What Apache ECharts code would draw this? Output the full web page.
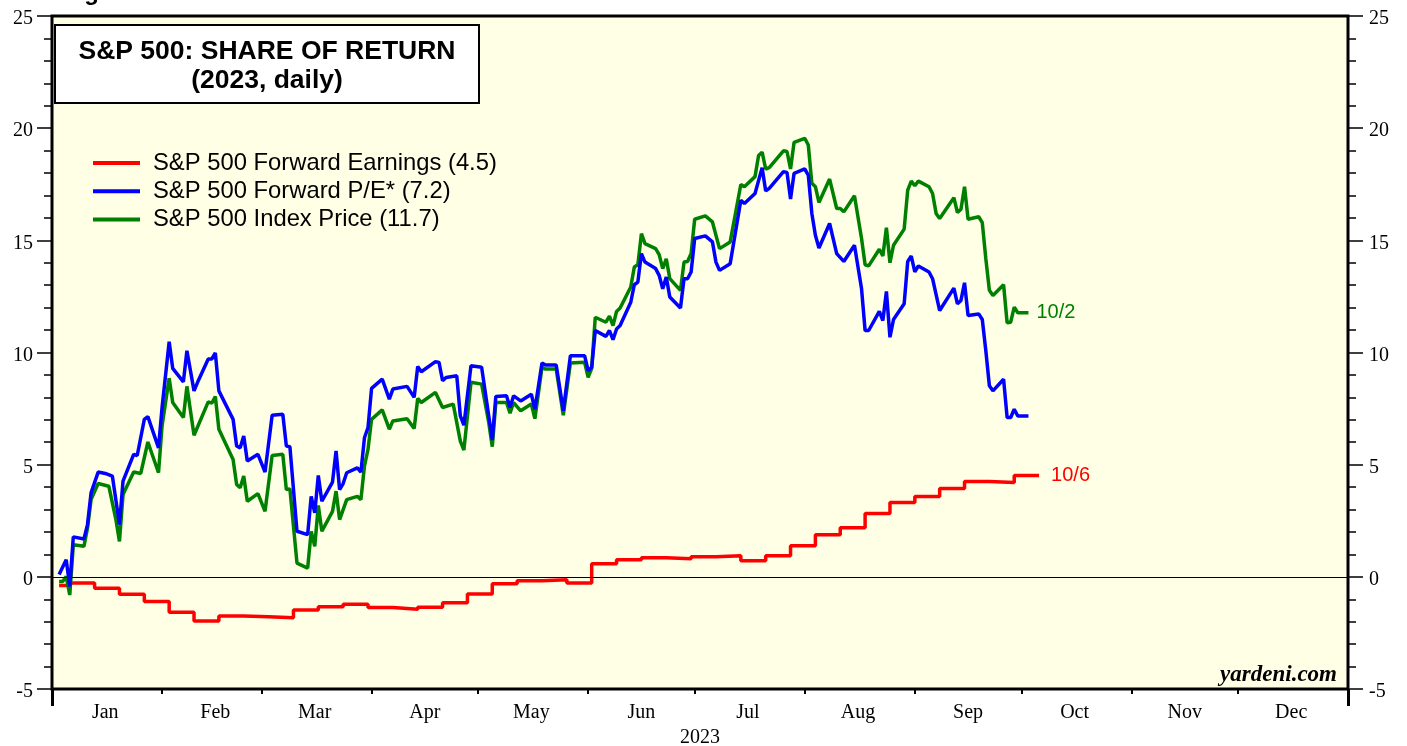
<!DOCTYPE html>
<html><head><meta charset="utf-8">
<script src="https://cdn.jsdelivr.net/npm/echarts@6/dist/echarts.min.js"></script>
<style>html,body{margin:0;padding:0;background:#fff}#c{width:1407px;height:746px}</style>
</head><body><div id="c"></div>
<script>
const monthNames = ['Jan','Feb','Mar','Apr','May','Jun','Jul','Aug','Sep','Oct','Nov','Dec'];
const yearLabel = '2023';
const yMin = -5, yMax = 25, yStep = 5;

const seriesNames = ['S&P 500 Forward Earnings (4.5)', 'S&P 500 Forward P/E* (7.2)', 'S&P 500 Index Price (11.7)'];
const endLabels = ['10/6', '10/2'];

const earnings = [
['2023-01-03',-0.39],['2023-01-06',-0.28],['2023-01-13',-0.51],['2023-01-20',-0.78],['2023-01-27',-1.10],
['2023-02-03',-1.58],['2023-02-10',-1.97],['2023-02-17',-1.75],['2023-02-24',-1.78],['2023-03-03',-1.82],
['2023-03-10',-1.48],['2023-03-17',-1.33],['2023-03-24',-1.22],['2023-03-31',-1.37],['2023-04-07',-1.45],
['2023-04-14',-1.36],['2023-04-21',-1.16],['2023-04-28',-0.76],['2023-05-05',-0.31],['2023-05-12',-0.18],
['2023-05-19',-0.13],['2023-05-26',-0.27],['2023-06-02',0.58],['2023-06-09',0.76],['2023-06-16',0.85],
['2023-06-23',0.81],['2023-06-30',0.90],['2023-07-07',0.94],['2023-07-14',0.72],['2023-07-21',0.94],
['2023-07-28',1.39],['2023-08-04',1.88],['2023-08-11',2.19],['2023-08-18',2.82],['2023-08-25',3.31],
['2023-09-01',3.58],['2023-09-08',3.94],['2023-09-15',4.25],['2023-09-22',4.21],['2023-09-29',4.52],
['2023-10-06',4.52]
];

const forwardPE = [
['2023-01-03',0.10],['2023-01-05',0.76],['2023-01-06',-0.43],['2023-01-07',1.78],['2023-01-10',1.69],
['2023-01-11',2.33],['2023-01-12',3.74],['2023-01-14',4.67],['2023-01-16',4.61],['2023-01-18',4.49],
['2023-01-20',2.33],['2023-01-21',4.27],['2023-01-24',5.46],['2023-01-25',5.41],['2023-01-27',7.02],
['2023-01-28',7.14],['2023-01-31',5.75],['2023-02-01',7.55],['2023-02-03',10.48],['2023-02-04',9.29],
['2023-02-07',8.69],['2023-02-08',10.08],['2023-02-10',8.29],['2023-02-11',8.67],['2023-02-14',9.71],
['2023-02-15',9.71],['2023-02-16',9.98],['2023-02-17',8.29],['2023-02-21',7.02],['2023-02-22',5.83],
['2023-02-23',5.75],['2023-02-24',6.28],['2023-02-25',5.16],['2023-02-28',5.46],['2023-03-02',4.67],
['2023-03-04',7.20],['2023-03-07',7.25],['2023-03-08',5.83],['2023-03-09',5.80],['2023-03-11',2.03],
['2023-03-14',1.88],['2023-03-15',3.59],['2023-03-16',2.85],['2023-03-17',4.52],['2023-03-18',3.37],
['2023-03-21',4.22],['2023-03-22',5.61],['2023-03-23',3.89],['2023-03-24',4.16],['2023-03-25',4.64],
['2023-03-28',4.86],['2023-03-29',4.67],['2023-03-30',6.20],['2023-03-31',6.65],['2023-04-01',8.40],
['2023-04-04',8.81],['2023-04-06',7.92],['2023-04-07',8.37],['2023-04-11',8.49],['2023-04-13',8.00],
['2023-04-14',9.38],['2023-04-15',9.14],['2023-04-19',9.59],['2023-04-20',9.56],['2023-04-21',8.74],
['2023-04-22',8.89],['2023-04-25',8.96],['2023-04-26',7.17],['2023-04-27',6.76],['2023-04-29',9.41],
['2023-05-02',9.34],['2023-05-04',7.17],['2023-05-05',6.10],['2023-05-06',8.04],['2023-05-09',8.07],
['2023-05-10',7.55],['2023-05-11',8.07],['2023-05-13',7.84],['2023-05-16',8.14],['2023-05-17',7.47],
['2023-05-19',9.53],['2023-05-20',9.44],['2023-05-23',9.44],['2023-05-25',7.40],['2023-05-27',9.86],
['2023-05-31',9.86],['2023-06-01',9.19],['2023-06-02',9.34],['2023-06-03',10.98],['2023-06-06',10.72],
['2023-06-07',10.98],['2023-06-08',10.57],['2023-06-09',11.05],['2023-06-10',11.20],['2023-06-13',12.24],
['2023-06-14',13.02],['2023-06-15',13.14],['2023-06-16',14.41],['2023-06-17',14.03],['2023-06-20',13.74],
['2023-06-21',13.44],['2023-06-22',12.84],['2023-06-23',13.36],['2023-06-24',12.47],['2023-06-27',11.98],
['2023-06-28',13.29],['2023-06-29',13.29],['2023-06-30',13.59],['2023-07-01',15.08],['2023-07-04',15.20],
['2023-07-06',14.93],['2023-07-07',14.03],['2023-07-08',13.66],['2023-07-11',13.96],['2023-07-14',16.79],
['2023-07-15',16.64],['2023-07-18',17.09],['2023-07-20',18.24],['2023-07-21',17.20],['2023-07-22',17.32],
['2023-07-26',18.06],['2023-07-27',18.03],['2023-07-28',16.84],['2023-07-29',17.99],['2023-08-01',18.18],
['2023-08-02',17.91],['2023-08-03',16.20],['2023-08-04',15.23],['2023-08-05',14.66],['2023-08-08',15.75],
['2023-08-10',14.41],['2023-08-12',14.06],['2023-08-15',14.78],['2023-08-17',12.84],['2023-08-18',10.98],
['2023-08-19',10.98],['2023-08-22',11.83],['2023-08-23',11.42],['2023-08-24',12.72],['2023-08-25',10.68],
['2023-08-26',11.47],['2023-08-29',12.17],['2023-08-30',14.06],['2023-08-31',14.30],['2023-09-01',13.59],
['2023-09-02',13.86],['2023-09-05',13.59],['2023-09-06',13.29],['2023-09-08',11.87],['2023-09-12',12.87],
['2023-09-13',12.17],['2023-09-14',12.32],['2023-09-15',13.11],['2023-09-16',11.65],['2023-09-19',11.72],
['2023-09-20',11.47],['2023-09-21',10.08],['2023-09-22',8.52],['2023-09-23',8.29],['2023-09-26',8.81],
['2023-09-27',7.10],['2023-09-28',7.10],['2023-09-29',7.47],['2023-09-30',7.17],['2023-10-03',7.17]
];

const indexPrice = [
['2023-01-03',-0.21],['2023-01-04',-0.21],['2023-01-05',0.01],['2023-01-06',-0.81],['2023-01-07',1.43],
['2023-01-10',1.36],['2023-01-11',2.18],['2023-01-12',3.44],['2023-01-14',4.16],['2023-01-17',4.04],
['2023-01-19',2.55],['2023-01-20',1.58],['2023-01-21',3.67],['2023-01-24',4.67],['2023-01-26',4.61],
['2023-01-28',6.01],['2023-01-31',4.64],['2023-02-01',6.73],['2023-02-03',8.85],['2023-02-04',7.77],
['2023-02-07',7.10],['2023-02-08',8.49],['2023-02-10',6.31],['2023-02-14',7.80],['2023-02-15',7.74],
['2023-02-16',8.04],['2023-02-17',6.58],['2023-02-21',5.23],['2023-02-22',4.12],['2023-02-23',3.97],
['2023-02-24',4.49],['2023-02-25',3.37],['2023-02-28',3.71],['2023-03-02',2.92],['2023-03-04',5.41],
['2023-03-07',5.46],['2023-03-08',3.89],['2023-03-09',3.92],['2023-03-11',0.61],['2023-03-14',0.39],
['2023-03-15',2.03],['2023-03-16',1.36],['2023-03-17',3.18],['2023-03-18',2.03],['2023-03-21',2.92],
['2023-03-22',3.82],['2023-03-23',2.55],['2023-03-25',3.44],['2023-03-28',3.59],['2023-03-29',3.44],
['2023-03-30',4.94],['2023-03-31',5.68],['2023-04-01',7.02],['2023-04-04',7.44],['2023-04-06',6.58],
['2023-04-07',6.95],['2023-04-11',7.05],['2023-04-13',6.61],['2023-04-14',7.95],['2023-04-15',7.77],
['2023-04-19',8.22],['2023-04-21',7.55],['2023-04-24',7.70],['2023-04-26',6.05],['2023-04-27',5.65],
['2023-04-29',8.67],['2023-05-02',8.59],['2023-05-04',6.88],['2023-05-05',5.80],['2023-05-06',7.77],
['2023-05-09',7.77],['2023-05-10',7.29],['2023-05-11',7.77],['2023-05-13',7.40],['2023-05-16',7.70],
['2023-05-17',7.05],['2023-05-19',9.34],['2023-05-20',9.26],['2023-05-23',9.26],['2023-05-25',7.20],
['2023-05-27',9.53],['2023-05-31',9.56],['2023-06-01',8.89],['2023-06-02',9.29],['2023-06-03',11.57],
['2023-06-06',11.35],['2023-06-07',11.62],['2023-06-08',11.20],['2023-06-09',11.83],['2023-06-10',11.98],
['2023-06-13',12.92],['2023-06-14',13.81],['2023-06-15',13.91],['2023-06-16',15.30],['2023-06-17',14.85],
['2023-06-20',14.63],['2023-06-21',14.36],['2023-06-22',13.74],['2023-06-23',14.18],['2023-06-24',13.29],
['2023-06-27',12.77],['2023-06-28',14.03],['2023-06-29',14.06],['2023-06-30',14.41],['2023-07-01',15.94],
['2023-07-04',16.09],['2023-07-06',15.82],['2023-07-08',14.63],['2023-07-11',14.93],['2023-07-14',17.49],
['2023-07-15',17.39],['2023-07-18',17.84],['2023-07-19',18.78],['2023-07-20',18.93],['2023-07-21',18.18],
['2023-07-22',18.24],['2023-07-26',18.99],['2023-07-27',18.96],['2023-07-28',18.18],['2023-07-29',19.37],
['2023-08-01',19.55],['2023-08-02',19.25],['2023-08-03',17.54],['2023-08-04',17.39],['2023-08-05',16.69],
['2023-08-08',17.73],['2023-08-10',16.42],['2023-08-11',16.42],['2023-08-12',16.27],['2023-08-15',16.99],
['2023-08-17',15.08],['2023-08-18',13.91],['2023-08-19',13.86],['2023-08-22',14.60],['2023-08-23',14.30],
['2023-08-24',15.56],['2023-08-25',14.00],['2023-08-26',14.78],['2023-08-29',15.50],['2023-08-30',17.24],
['2023-08-31',17.64],['2023-09-01',17.43],['2023-09-02',17.64],['2023-09-05',17.39],['2023-09-06',17.09],
['2023-09-07',16.20],['2023-09-08',15.97],['2023-09-12',16.90],['2023-09-13',16.24],['2023-09-14',16.39],
['2023-09-15',17.39],['2023-09-16',15.94],['2023-09-19',16.05],['2023-09-20',15.79],['2023-09-21',14.18],
['2023-09-22',12.77],['2023-09-23',12.54],['2023-09-26',13.02],['2023-09-27',11.32],['2023-09-28',11.35],
['2023-09-29',12.02],['2023-09-30',11.77],['2023-10-03',11.77]
];

function toTs(s) { const p = s.split('-').map(Number); return new Date(p[0], p[1] - 1, p[2]).getTime(); }
function prep(arr) { return arr.map(d => [toTs(d[0]), d[1]]); }

const tStart = new Date(2023, 0, 1).getTime();
const tEnd = new Date(2024, 0, 1).getTime();
const monthTicks = [];
const monthLabelPos = [];
for (let m = 0; m < 12; m++) {
  if (m > 0) monthTicks.push(new Date(2023, m, 1).getTime());
  monthLabelPos.push(new Date(2023, m, 16).getTime());
}

const serif = '"Liberation Serif", "Times New Roman", serif';
const sans = '"Liberation Sans", Arial, sans-serif';

const chart = echarts.init(document.getElementById('c'));
const yAxisBase = {
  type: 'value', min: yMin, max: yMax, interval: yStep,
  axisLine: { show: false, onZero: false },
  axisTick: { show: true, length: 15, lineStyle: { color: '#000', width: 1.5 } },
  minorTick: { show: true, splitNumber: 5, length: 8, lineStyle: { color: '#000', width: 1.5 } },
  splitLine: { show: false },
  axisLabel: { color: '#000', fontFamily: serif, fontSize: 20, margin: 19,
               formatter: v => '{a|' + v + '}',
               rich: { a: { color: '#000', fontFamily: serif, fontSize: 20, padding: [6, 0, 0, 0] } } }
};
chart.setOption({
  animation: false,
  backgroundColor: '#ffffff',
  grid: { left: 52, top: 16, width: 1296, height: 673, show: true, outerBoundsMode: 'none',
          backgroundColor: '#ffffe5', borderColor: '#000', borderWidth: 3, containLabel: false },
  xAxis: [
    { type: 'value', min: tStart, max: tEnd, position: 'bottom',
      axisLine: { show: false, onZero: false },
      axisTick: { show: true, customValues: monthTicks, length: 5, lineStyle: { color: '#000', width: 2 } },
      axisLabel: { show: true, customValues: monthLabelPos, color: '#000', fontFamily: serif, fontSize: 20, margin: 14,
                   formatter: v => monthNames[new Date(v).getMonth()] },
      splitLine: { show: false },
      name: yearLabel, nameLocation: 'middle', nameGap: 37,
      nameTextStyle: { color: '#000', fontFamily: serif, fontSize: 20 }
    },
    { type: 'value', min: tStart, max: tEnd, position: 'bottom',
      axisLine: { show: false, onZero: false },
      axisTick: { show: true, customValues: [tStart, tEnd], length: 17, lineStyle: { color: '#000', width: 3 } },
      axisLabel: { show: false },
      splitLine: { show: false }
    }
  ],
  yAxis: [
    Object.assign({}, yAxisBase, { position: 'left' }),
    Object.assign({}, yAxisBase, { position: 'right', axisLabel: Object.assign({}, yAxisBase.axisLabel, { margin: 21 }) })
  ],
  legend: {
    left: 88, top: 144, orient: 'vertical', icon: 'rect', itemWidth: 47, itemHeight: 4, itemGap: 0.3,
    data: seriesNames,
    textStyle: { color: '#000', fontFamily: sans, fontSize: 23.8, lineHeight: 28, padding: [0, 0, 0, 8] }
  },
  series: [
    { name: seriesNames[0], type: 'line', data: prep(earnings), step: 'end', showSymbol: false, symbol: 'none',
      lineStyle: { color: '#ff0000', width: 3.5 }, itemStyle: { color: '#ff0000' },
      endLabel: { show: true, formatter: endLabels[0], color: '#ff0000', fontFamily: sans, fontSize: 20, distance: 12 },
      markLine: { silent: true, symbol: 'none', label: { show: false },
                  lineStyle: { color: '#000', width: 1, type: 'solid' }, data: [{ yAxis: 0 }] },
      z: 3 },
    { name: seriesNames[2], type: 'line', data: prep(indexPrice), showSymbol: false, symbol: 'none',
      lineStyle: { color: '#008000', width: 3.5 }, itemStyle: { color: '#008000' },
      endLabel: { show: true, formatter: endLabels[1], color: '#008000', fontFamily: sans, fontSize: 20, distance: 8 },
      z: 4 },
    { name: seriesNames[1], type: 'line', data: prep(forwardPE), showSymbol: false, symbol: 'none',
      lineStyle: { color: '#0000ff', width: 3.5 }, itemStyle: { color: '#0000ff' }, z: 5 }
  ],
  graphic: [
    { type: 'rect', z: 100, shape: { x: 55, y: 25, width: 424, height: 78 },
      style: { fill: '#ffffff', stroke: '#000', lineWidth: 2 } },
    { type: 'text', z: 101, x: 267, y: 66,
      style: { text: 'S&P 500: SHARE OF RETURN\n(2023, daily)', fill: '#000', fontFamily: sans,
               fontWeight: 'bold', fontSize: 26.5, lineHeight: 29, align: 'center', verticalAlign: 'middle' } },
    { type: 'text', z: 101, x: 1337, y: 675,
      style: { text: 'yardeni.com', fill: '#000', fontFamily: serif, fontWeight: 'bold', fontStyle: 'italic',
               fontSize: 23, align: 'right', verticalAlign: 'middle' } },
    { type: 'text', z: 101, x: 63, y: 5,
      style: { text: 'Figure 17.', fill: '#000', fontFamily: sans, fontWeight: 'bold', fontSize: 24,
               align: 'left', verticalAlign: 'bottom' } }
  ]
});
</script></body></html>
